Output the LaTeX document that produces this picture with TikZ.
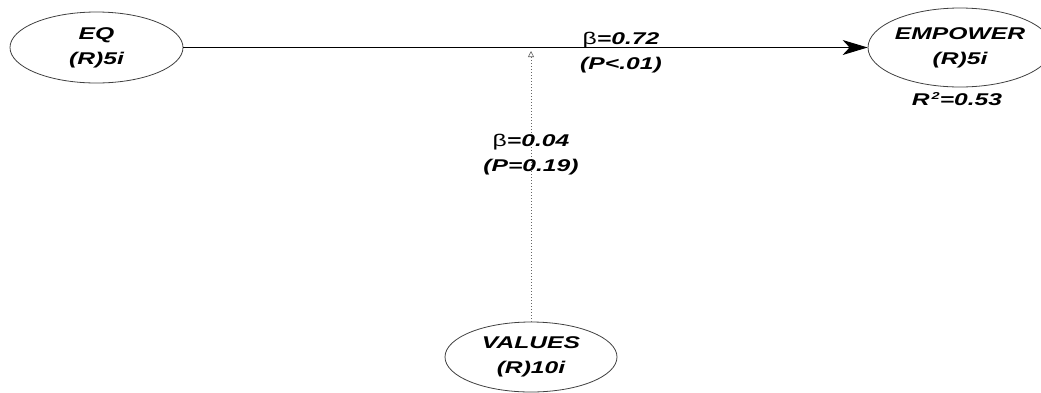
\documentclass[tikz,border=0pt]{standalone}
\usepackage{fontspec}
\setmainfont{Liberation Sans}[FakeStretch=1.45]
\usetikzlibrary{shapes.geometric,arrows.meta}
\begin{document}
\begin{tikzpicture}[x=1pt,y=-1pt,
  lv/.style={draw=black!75, line width=0.8pt, ellipse, inner sep=0pt, align=center,
    font=\fontsize{17}{25}\selectfont\bfseries\itshape},
  lbl/.style={align=center, inner sep=0pt,
    font=\fontsize{17}{25}\selectfont\bfseries\itshape}]
\useasboundingbox (0,0) rectangle (1041,392);
\node[lv, minimum width=173pt, minimum height=71pt] (eq) at (96.5,47.5) {EQ\\(R)5i};
\node[lv, minimum width=160pt, minimum height=79pt] (emp) at (960,47.5) {EMPOWER\\(R)5i};
\node[lv, minimum width=172pt, minimum height=70pt] (val) at (531,357) {VALUES\\(R)10i};
\coordinate (m) at (531,51);
\draw[line width=1pt, -{Stealth[length=25pt,width=15pt,inset=7pt]}] (eq) -- (emp);
\draw[black!60, dotted, line width=1pt, -{Triangle[open,length=6pt,width=6pt,line width=0.6pt]}] (val) -- (m);
\node[lbl] (b1) at (621,53) {{\mdseries\upshape β}=0.72\\(P<.01)};
\node[lbl] (b2) at (531,155) {{\mdseries\upshape β}=0.04\\(P=0.19)};
\node[lbl] (r2) at (957,99) {R\kern2pt\raisebox{6pt}{\fontsize{10}{10}\selectfont 2}=0.53};
\end{tikzpicture}
\end{document}
